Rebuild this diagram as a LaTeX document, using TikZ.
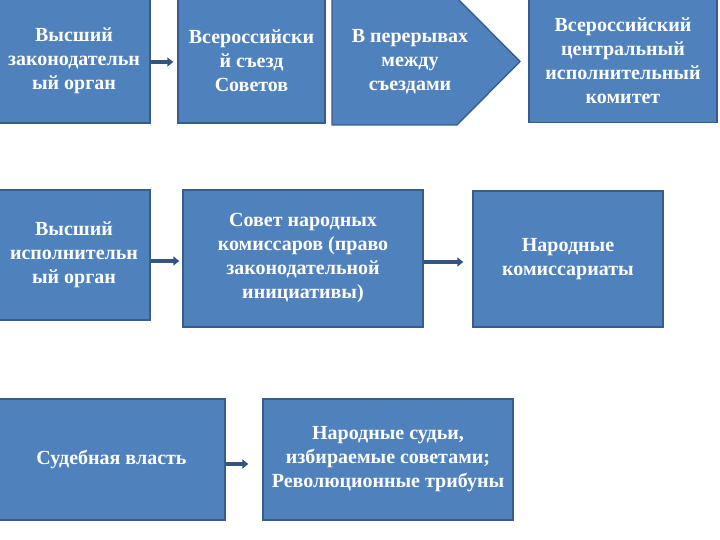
\documentclass[tikz,border=0pt]{standalone}
\usepackage{fontspec}
\setmainfont{Liberation Serif}
\usepackage{tikz}
\usetikzlibrary{positioning,arrows.meta}
\definecolor{boxfill}{HTML}{4F81BD}
\definecolor{boxline}{HTML}{385D8A}
\definecolor{arrowblue}{HTML}{34557F}

\begin{document}
\begin{tikzpicture}[x=1pt,y=-1pt,>={Triangle[length=6pt,width=9pt]}]

    \tikzset{block/.style={draw=boxline, fill=boxfill, line width=1.4pt, align=center, text=white, inner sep=2pt,
      font=\fontsize{20}{24}\selectfont\bfseries}}
    \tikzset{link/.style={->, draw=arrowblue, line width=3.6pt}}

    \useasboundingbox (0,0) rectangle (720,540);

    % TOP ROW
    \node(legis) at (74,60.5) [block, minimum width=152pt, minimum height=125pt] {Высший\\законодательн\\ый орган};
    \node(congress) at (251.5,60.5) [block, minimum width=147pt, minimum height=125pt] {Всероссийски\\й съезд\\Советов};
    % pentagon pointing to the VTsIK
    \draw[block] (332,-2) -- (457,-2) -- (520,61.5) -- (457,125) -- (332,125) -- cycle;
    \node(pause) at (410,62) [block, draw=none, fill=none] {В перерывах\\между\\съездами};
    \node(vtsik) at (623,60.5) [block, minimum width=188pt, minimum height=124pt] {Всероссийский\\центральный\\исполнительный\\комитет};

    % MIDDLE ROW
    \node(exec) at (74,255) [block, minimum width=152pt, minimum height=130pt] {Высший\\исполнительн\\ый орган};
    \node(snk) at (303,258.5) [block, minimum width=240pt, minimum height=137pt] {Совет народных\\комиссаров (право\\законодательной\\инициативы)};
    \node(narkom) at (568,259) [block, minimum width=190pt, minimum height=136pt] {Народные\\комиссариаты};

    % BOTTOM ROW
    \node(court) at (111.5,459.5) [block, minimum width=227pt, minimum height=121pt] {Судебная власть};
    \node(judges) at (388,459.5) [block, minimum width=250pt, minimum height=121pt] {Народные судьи,\\избираемые советами;\\Революционные трибуны};

    % ARROWS
    \draw[link, shorten >=4pt] ([yshift=-1.5pt]legis.east) -- ([yshift=-1.5pt]legis.east -| congress.west);
    \draw[link, shorten >=3pt] ([yshift=-6pt]exec.east) -- ([yshift=-6pt]exec.east -| snk.west);
    \draw[link, shorten >=9pt] ([yshift=-3.5pt]snk.east) -- ([yshift=-3.5pt]snk.east -| narkom.west);
    \draw[link, shorten >=14pt] ([yshift=-4.5pt]court.east) -- ([yshift=-4.5pt]court.east -| judges.west);

\end{tikzpicture}
\end{document}
